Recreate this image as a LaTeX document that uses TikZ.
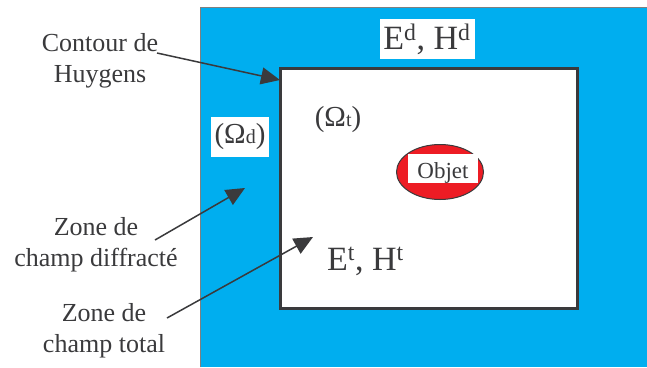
\documentclass[tikz,border=0pt]{standalone}
\usepackage{fontspec}
\setmainfont{Liberation Serif}
\usetikzlibrary{arrows.meta, positioning, shapes.geometric}

\definecolor{zoneblue}{RGB}{0,174,239}
\definecolor{objred}{RGB}{237,28,36}
\definecolor{inkgray}{RGB}{58,58,60}

\begin{document}
\begin{tikzpicture}[
    x=1pt, y=-1pt,
    lbl/.style={align=center, inner sep=0pt, text=inkgray, font=\fontsize{26}{31}\selectfont},
    fld/.style={inner sep=0pt, text=inkgray, font=\fontsize{34}{40}\selectfont},
    omg/.style={inner sep=0pt, text=inkgray, font=\fontsize{29}{33}\selectfont},
    wbox/.style={fill=white, inner sep=0pt},
    arr/.style={-{Triangle[length=19pt, width=17pt]}, line width=1.5pt, draw=inkgray}
]
\useasboundingbox (0,0) rectangle (647,367);

% zone de champ diffracte
\fill[zoneblue] (200,7) rectangle (647,367);
\draw[gray, line width=0.8pt] (200,367) |- (647,7);

% zone de champ total
\node[draw=inkgray, line width=3pt, fill=white, outer sep=0pt, inner sep=0pt,
      minimum width=297pt, minimum height=240pt] (zonet) at (428.5,188) {};

% objet
\node[ellipse, draw=inkgray, line width=1pt, fill=objred,
      minimum width=87pt, minimum height=55pt] (objet) at (440,172) {};
\node[wbox, minimum width=70pt, text height=25pt, text depth=4pt, text=inkgray,
      font=\fontsize{23}{27}\selectfont] (objtxt) at (443,168) {Objet};

% champs
\node[wbox, fld, minimum width=95pt, minimum height=40pt] (ed) at (427,39)
    {E\textsuperscript{d}, H\textsuperscript{d}};
\node[fld, anchor=base west] (et) at (327,270)
    {E\textsuperscript{t}, H\textsuperscript{t}};
\node[omg] (omt) at (338,120) {(Ω{\fontsize{20}{24}\selectfont t})};
\node[wbox, omg, minimum width=58pt, minimum height=40pt] (omd) at (240,137)
    {(Ω{\fontsize{20}{24}\selectfont d})};

% etiquettes
\node[lbl] (contour) at (100,61) {Contour de\\Huygens};
\node[lbl] (diffr) at (96,245) {Zone de\\champ diffracté};
\node[lbl] (total) at (104,331) {Zone de\\champ total};

\coordinate (ptd) at (245,188);
\coordinate (ptt) at (313,237);

\draw[arr] ([xshift=57pt, yshift=8pt]contour.center) -- ([yshift=-12pt]zonet.north west);
\draw[arr] ([xshift=59pt, yshift=5pt]diffr.center) -- (ptd);
\draw[arr] ([xshift=63pt, yshift=13pt]total.center) -- (ptt);
\end{tikzpicture}
\end{document}
